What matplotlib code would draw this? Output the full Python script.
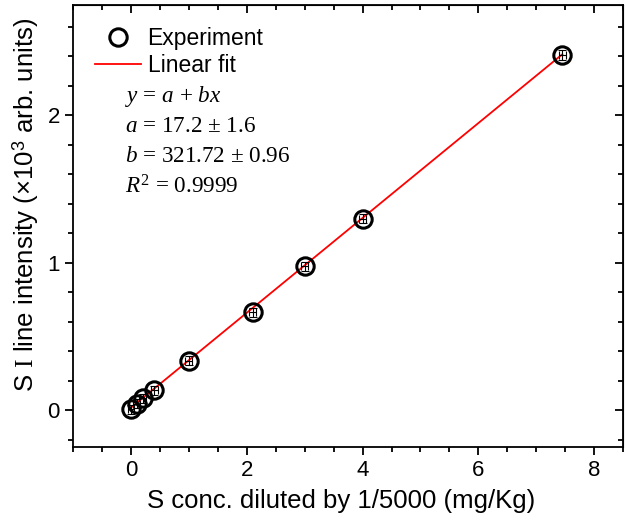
import numpy as np
import matplotlib
matplotlib.use("Agg")
import matplotlib.pyplot as plt
from matplotlib.ticker import MultipleLocator

plt.rcParams['font.family'] = ['Liberation Sans', 'DejaVu Sans']
plt.rcParams['mathtext.fontset'] = 'custom'
plt.rcParams['mathtext.rm'] = 'Liberation Serif'
plt.rcParams['mathtext.it'] = 'Liberation Serif:italic'
plt.rcParams['mathtext.sf'] = 'Liberation Sans'

# measured S I line intensity vs diluted concentration
conc = [0.0, 0.1, 0.2, 0.4, 1.0, 2.1, 3.0, 4.0, 7.45]
intensity = [0.005, 0.045, 0.08, 0.135, 0.335, 0.665, 0.975, 1.30, 2.41]
intensity_err = [0.03, 0.03, 0.03, 0.03, 0.03, 0.03, 0.03, 0.03, 0.035]
conc_err = [0.06, 0.06, 0.06, 0.06, 0.06, 0.06, 0.06, 0.06, 0.06]

# linear fit parameters (intensity in arb. units)
fit_a = 17.2
fit_a_err = 1.6
fit_b = 321.72
fit_b_err = 0.96
fit_r2 = 0.9999

fig = plt.figure(figsize=(6.25, 5.29), dpi=100)
ax = fig.add_axes([0.117, 0.155, 0.880, 0.836])

xfit = np.array([conc[0], conc[-1]])
yfit = (fit_a + fit_b * xfit) / 1000.0
ax.plot(xfit, yfit, color='red', lw=1.3, label='Linear fit', zorder=2)

ax.errorbar(conc, intensity, yerr=intensity_err, xerr=conc_err, fmt='none',
            ecolor='black', elinewidth=0.8, capsize=3, capthick=0.8, zorder=3)
ax.plot(conc, intensity, 'o', ms=12.5, mfc='none', mec='black', mew=2.2,
        linestyle='none', label='Experiment', zorder=4)

ax.set_xlim(-1, 8.5)
ax.set_ylim(-0.25, 2.75)
ax.xaxis.set_major_locator(MultipleLocator(2))
ax.xaxis.set_minor_locator(MultipleLocator(0.5))
ax.yaxis.set_major_locator(MultipleLocator(1))
ax.yaxis.set_minor_locator(MultipleLocator(0.2))
ax.tick_params(which='both', direction='out', width=1.3, labelsize=16)
ax.tick_params(which='major', length=6)
ax.tick_params(which='minor', length=3.5)
for sp in ax.spines.values():
    sp.set_linewidth(1.3)

# mirrored ticks on top and right, pointing inward
top = ax.secondary_xaxis('top')
top.xaxis.set_major_locator(MultipleLocator(2))
top.xaxis.set_minor_locator(MultipleLocator(0.5))
top.tick_params(which='both', direction='in', width=1.3, labeltop=False)
top.tick_params(which='major', length=6)
top.tick_params(which='minor', length=3.5)
right = ax.secondary_yaxis('right')
right.yaxis.set_major_locator(MultipleLocator(1))
right.yaxis.set_minor_locator(MultipleLocator(0.2))
right.tick_params(which='both', direction='in', width=1.3, labelright=False)
right.tick_params(which='major', length=6)
right.tick_params(which='minor', length=3.5)

ax.set_xlabel('S conc. diluted by 1/5000 (mg/Kg)', fontsize=18.5)
ax.set_ylabel(r'S $\mathrm{I}$ line intensity (×10$^{\mathsf{3}}$ arb. units)',
              fontsize=18.5)
ax.xaxis.set_label_coords(0.487, -0.095)
ax.yaxis.set_label_coords(-0.058, 0.547)

handles, labels = ax.get_legend_handles_labels()
ax.legend(handles[::-1], labels[::-1], loc='upper left', frameon=False,
          fontsize=16.5, handlelength=2.0, borderaxespad=0.55,
          labelspacing=0.18, handletextpad=0.3)

eq_lines = [
    r'$y$ = $a$ + $bx$',
    rf'$a$ = {fit_a} ± {fit_a_err}',
    rf'$b$ = {fit_b} ± {fit_b_err}',
    rf'$R^2$ = {fit_r2}',
]
for i, line in enumerate(eq_lines):
    ax.text(0.095, 0.792 - i * 0.068, line, transform=ax.transAxes,
            fontsize=16.7, family='Liberation Serif', va='center', ha='left')

fig.savefig('out.png', dpi=100)
